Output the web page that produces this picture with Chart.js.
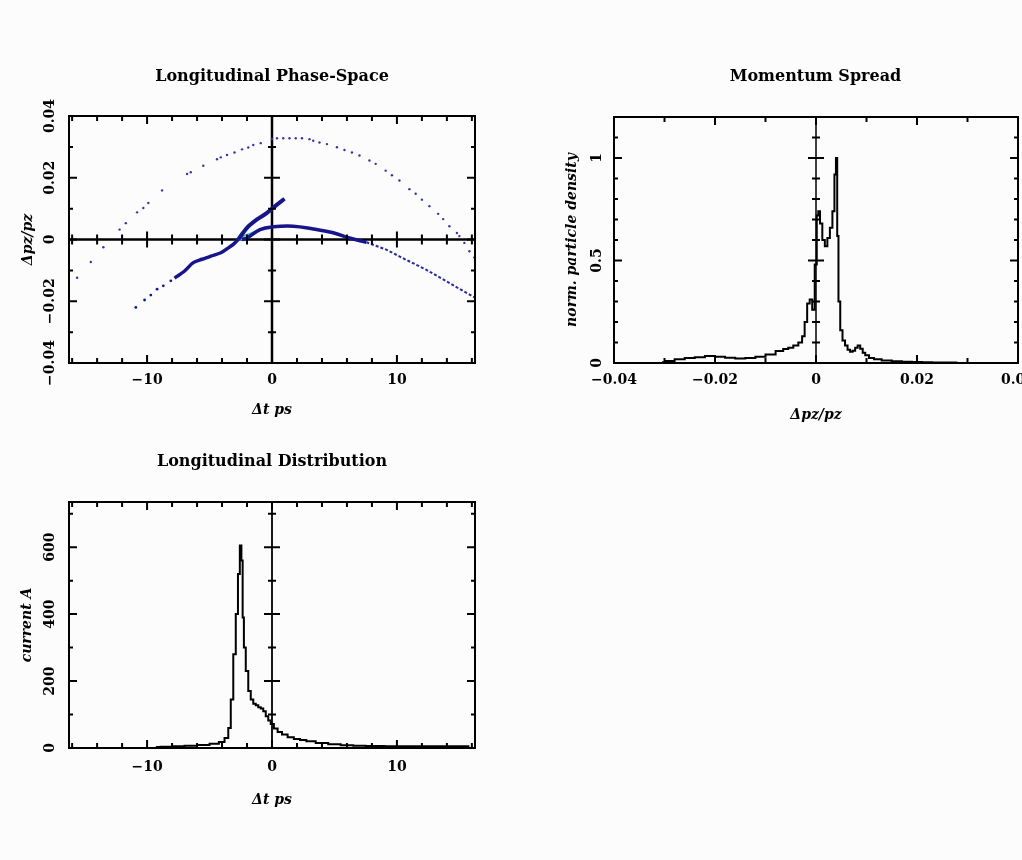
<!DOCTYPE html>
<html>
<head>
<meta charset="utf-8">
<script src="https://cdn.jsdelivr.net/npm/chart.js@4.4.0/dist/chart.umd.min.js"></script>
<style>
html, body { margin: 0; width: 1022px; height: 860px; overflow: hidden; background: #fcfcfc; }
.box { position: absolute; }
</style>
</head>
<body>
<div class="box" style="left:0;top:50px;width:544px;height:383px"><canvas id="phaseChart"></canvas></div>
<div class="box" style="left:545px;top:50px;width:541px;height:383px"><canvas id="spreadChart"></canvas></div>
<div class="box" style="left:0;top:435px;width:544px;height:383px"><canvas id="distChart"></canvas></div>
<script>
/* Longitudinal phase-space / momentum spread / current distribution */

// ── Phase space (Δt ps, Δpz/pz) ──────────────────────────────────────────
const arcT = [-15.6, -14.5, -13.5, -12.2, -11.7, -10.8, -10.3, -9.9, -8.8, -6.8, -6.5, -5.5, -4.4, -4.1, -3.6, -3.0, -2.4, -1.9, -1.5, -0.9, 0, 0.4, 0.9, 1.4, 1.9, 2.4, 3.0, 3.3, 3.8, 4.4, 5.2, 5.8, 6.4, 7.0, 7.8, 8.3, 9.1, 9.6, 10.2, 11.0, 11.5, 12.0, 12.6, 13.3, 13.7, 14.2, 14.8, 15.0, 15.4, 15.8, 16.2];
const arcD = [-0.0124, -0.0073, -0.0025, 0.0032, 0.0053, 0.0088, 0.0102, 0.0118, 0.0159, 0.0212, 0.0218, 0.0239, 0.026, 0.0266, 0.0274, 0.0282, 0.0292, 0.0298, 0.0306, 0.0312, 0.0325, 0.0328, 0.0328, 0.0328, 0.0328, 0.0328, 0.0325, 0.032, 0.0314, 0.0309, 0.0299, 0.029, 0.0282, 0.0272, 0.0256, 0.0245, 0.0223, 0.0208, 0.0191, 0.0163, 0.0148, 0.0129, 0.0108, 0.0083, 0.0066, 0.0043, 0.0021, 0.0011, -0.0011, -0.0038, -0.0058];

const tailT = [-10.9, -10.2, -9.7, -9.2, -8.7, -8.1, -7.5];
const tailD = [-0.022, -0.0196, -0.018, -0.0161, -0.015, -0.0134, -0.0118];

const lowArmT = [-7.8, -7.0, -6.3, -5.6, -4.9, -4.1, -3.6, -3.1, -2.7];
const lowArmD = [-0.0125, -0.0102, -0.0075, -0.0064, -0.0054, -0.0043, -0.003, -0.0016, 0.0];

const upArmT = [-2.7, -2.0, -1.2, -0.4, 0.4, 1.0];
const upArmD = [0.0, 0.0038, 0.0065, 0.0086, 0.0113, 0.0132];

const rightArmT = [-2.4, -2.0, -0.96, 0.1, 1.7, 3.3, 4.9, 6.2, 7.55];
const rightArmD = [0.0, 0.0005, 0.0032, 0.0041, 0.0043, 0.0034, 0.0022, 0.0005, -0.0009];

const rightTailT = [7.55, 9.1, 10.7, 12.3, 13.9, 15.0, 16.25];
const rightTailD = [-0.0009, -0.0032, -0.0065, -0.0097, -0.0134, -0.016, -0.0188];

const cyanT = [-2.5, -1.8, -1.0, -0.3];
const cyanD = [0.0008, 0.0018, 0.0032, 0.0038];

const coreT = [-2.55, -2.45, -2.35];
const coreD = [0.0004, 0.0012, 0.002];

// ── Momentum spread ───────────────────────────────────────────────────────
const spreadX = [-0.0305, -0.029, -0.027, -0.025, -0.023, -0.021, -0.019, -0.017, -0.015, -0.013, -0.011, -0.009, -0.007, -0.006, -0.005, -0.004, -0.003, -0.0025, -0.002, -0.0015, -0.001, -0.0005, 0, 0.0003, 0.0006, 0.001, 0.0015, 0.002, 0.0025, 0.003, 0.0035, 0.0038, 0.0041, 0.0043, 0.0046, 0.005, 0.0055, 0.006, 0.0065, 0.007, 0.0075, 0.008, 0.0085, 0.009, 0.0095, 0.010, 0.011, 0.012, 0.014, 0.016, 0.018, 0.020, 0.022, 0.024, 0.026, 0.028];
const spreadY = [0.004, 0.01, 0.018, 0.024, 0.028, 0.034, 0.03, 0.026, 0.022, 0.024, 0.03, 0.042, 0.058, 0.068, 0.075, 0.085, 0.1, 0.13, 0.2, 0.29, 0.31, 0.26, 0.48, 0.72, 0.74, 0.68, 0.6, 0.57, 0.61, 0.66, 0.74, 0.92, 1.0, 0.62, 0.3, 0.16, 0.11, 0.085, 0.065, 0.055, 0.06, 0.075, 0.085, 0.07, 0.05, 0.038, 0.025, 0.018, 0.012, 0.008, 0.006, 0.005, 0.004, 0.003, 0.003, 0.002];

// ── Longitudinal distribution (current A) ─────────────────────────────────
const distT = [-9.3, -8.5, -7.5, -6.5, -5.5, -4.5, -4.0, -3.6, -3.4, -3.2, -3.0, -2.8, -2.65, -2.5, -2.4, -2.3, -2.2, -2.0, -1.8, -1.6, -1.4, -1.2, -1.0, -0.8, -0.6, -0.4, -0.2, 0, 0.3, 0.6, 1.0, 1.5, 2.0, 2.5, 3.0, 4.0, 5.0, 6.0, 7.0, 8.0, 10, 12, 14, 15.8];
const distI = [3, 4, 5, 7, 9, 13, 18, 30, 60, 145, 280, 400, 520, 605, 560, 390, 300, 230, 170, 145, 132, 128, 122, 118, 110, 95, 82, 72, 58, 48, 40, 32, 27, 24, 20, 15, 11, 8, 7, 6, 5, 5, 5, 5];

const pts = (xs, ys) => xs.map((v, i) => ({ x: v, y: ys[i] }));
const fmt = v => (Math.abs(v) < 1e-9 ? '0' : String(+v.toFixed(3))).replace('-', '\u2212');

const SERIF = "'DejaVu Serif', serif";
const tickFont = { family: SERIF, weight: 'bold', size: 14 };
const titleFont = { family: SERIF, weight: 'bold', size: 16 };
const axisFont = { family: SERIF, weight: 'bold', style: 'italic', size: 14 };

// PGPLOT-like frame: inward ticks on all four sides, zero axes with crossing ticks
const pgFrame = {
    id: 'pgFrame',
    beforeDatasetsDraw(chart, args, o) {
        const { ctx, chartArea: a, scales: { x, y } } = chart;
        ctx.save();
        ctx.strokeStyle = '#000';
        ctx.lineWidth = o.zeroWidth || 2;
        ctx.beginPath();
        const px0 = x.getPixelForValue(0);
        ctx.moveTo(px0, a.top); ctx.lineTo(px0, a.bottom);
        if (o.zeroY) {
            const py0 = y.getPixelForValue(0);
            ctx.moveTo(a.left, py0); ctx.lineTo(a.right, py0);
        }
        ctx.stroke();
        ctx.restore();
    },
    afterDatasetsDraw(chart, args, o) {
        const { ctx, chartArea: a, scales: { x, y } } = chart;
        const isMajor = (v, step) => Math.abs(v / step - Math.round(v / step)) < 1e-6;
        const steps = (s, step) => {
            const out = [];
            for (let i = Math.ceil(s.min / step - 1e-9); i * step <= s.max + 1e-9; i++) out.push(i * step);
            return out;
        };
        ctx.save();
        ctx.strokeStyle = '#000';
        ctx.lineWidth = 2;
        ctx.strokeRect(a.left, a.top, a.right - a.left, a.bottom - a.top);
        ctx.beginPath();
        const px0 = x.getPixelForValue(0);
        const py0 = y.getPixelForValue(0);
        steps(x, o.xMinor).forEach(v => {
            const px = x.getPixelForValue(v);
            const len = isMajor(v, o.xMajor) ? 8 : 5;
            ctx.moveTo(px, a.bottom); ctx.lineTo(px, a.bottom - len);
            ctx.moveTo(px, a.top); ctx.lineTo(px, a.top + len);
            if (o.zeroY) { ctx.moveTo(px, py0 - len); ctx.lineTo(px, py0 + len); }
        });
        steps(y, o.yMinor).forEach(v => {
            const py = y.getPixelForValue(v);
            const len = isMajor(v, o.yMajor) ? 8 : 4;
            ctx.moveTo(a.left, py); ctx.lineTo(a.left + len, py);
            ctx.moveTo(a.right, py); ctx.lineTo(a.right - len, py);
            ctx.moveTo(px0 - len, py); ctx.lineTo(px0 + len, py);
        });
        ctx.stroke();
        ctx.restore();
    }
};

function xAxis(min, max, step, title, tickPad, titlePad) {
    return {
        type: 'linear', min, max,
        afterFit: s => { s.height = 70; },
        grid: { display: false, drawTicks: false },
        border: { display: false },
        ticks: { stepSize: step, includeBounds: false, maxRotation: 0, color: '#000', font: tickFont, padding: tickPad, callback: fmt },
        title: { display: true, text: title, color: '#000', font: axisFont, padding: { top: 0, bottom: titlePad } }
    };
}

function yAxis(min, max, step, title, width, tickPad, titlePad) {
    return {
        type: 'linear', min, max,
        afterFit: s => { s.width = width; },
        grid: { display: false, drawTicks: false },
        border: { display: false },
        ticks: { stepSize: step, includeBounds: false, minRotation: 90, maxRotation: 90, crossAlign: 'center', color: '#000', font: tickFont, padding: tickPad, callback: fmt },
        title: { display: true, text: title, color: '#000', font: axisFont, padding: { top: titlePad, bottom: 0 } }
    };
}

// empty right-hand box so the plot sits centred under its title
function spacer(width) {
    return {
        type: 'linear', position: 'right', display: true,
        afterFit: s => { s.width = width; },
        grid: { display: false, drawTicks: false },
        border: { display: false },
        ticks: { display: false }
    };
}

function baseOptions(title, titlePad) {
    return {
        responsive: true,
        maintainAspectRatio: false,
        animation: false,
        layout: { padding: 0 },
        plugins: {
            legend: { display: false },
            tooltip: { enabled: false },
            title: { display: true, text: title, color: '#000', font: titleFont, padding: titlePad }
        }
    };
}

// ── Phase-space chart ─────────────────────────────────────────────────────
const navy = '#16168a';
const phaseOpts = baseOptions('Longitudinal Phase-Space', { top: 17.4, bottom: 29.4 });
phaseOpts.scales = {
    x: xAxis(-16.25, 16.25, 10, '\u0394t ps', 9, 14.6),
    y: yAxis(-0.04, 0.04, 0.02, '\u0394pz/pz', 69, -4, 19.6),
    pad: spacer(69)
};
phaseOpts.plugins.pgFrame = { xMinor: 2, xMajor: 10, yMinor: 0.01, yMajor: 0.02, zeroY: true, zeroWidth: 2.5 };

new Chart(document.getElementById('phaseChart'), {
    type: 'scatter',
    data: {
        datasets: [
            { data: pts(arcT, arcD), pointRadius: 1.2, pointBackgroundColor: '#3535a8', pointBorderWidth: 0 },
            { data: pts(tailT, tailD), pointRadius: 1.4, pointBackgroundColor: navy, pointBorderWidth: 0 },
            { data: pts(rightTailT, rightTailD), showLine: true, borderColor: '#2a2a9c', borderWidth: 2, borderDash: [3, 2], pointRadius: 0 },
            { data: pts(lowArmT, lowArmD), showLine: true, borderColor: navy, borderWidth: 3.5, pointRadius: 0, tension: 0.3 },
            { data: pts(upArmT, upArmD), showLine: true, borderColor: navy, borderWidth: 4, pointRadius: 0, tension: 0.3 },
            { data: pts(rightArmT, rightArmD), showLine: true, borderColor: navy, borderWidth: 3.5, pointRadius: 0, tension: 0.4 },
            { data: pts(cyanT, cyanD), showLine: true, borderColor: '#2ec4e6', borderWidth: 2, pointRadius: 0, tension: 0.3 },
            { data: pts(coreT, coreD), pointRadius: 2.5, pointBackgroundColor: ['#3cc0e0', '#7ed957', '#e8e84a'], pointBorderWidth: 0 }
        ]
    },
    options: phaseOpts,
    plugins: [pgFrame]
});

// ── Momentum spread chart ─────────────────────────────────────────────────
const spreadOpts = baseOptions('Momentum Spread', { top: 17.4, bottom: 30.4 });
spreadOpts.scales = {
    x: xAxis(-0.04, 0.04, 0.02, '\u0394pz/pz', 9, 9.6),
    y: yAxis(0, 1.2, 0.5, 'norm. particle density', 69, 4, 18.6),
    pad: spacer(68)
};
spreadOpts.plugins.pgFrame = { xMinor: 0.01, xMajor: 0.02, yMinor: 0.1, yMajor: 0.5, zeroWidth: 1.5 };

new Chart(document.getElementById('spreadChart'), {
    type: 'scatter',
    data: {
        datasets: [{
            data: pts(spreadX, spreadY),
            showLine: true,
            stepped: 'middle',
            borderColor: '#000',
            borderWidth: 2,
            pointRadius: 0
        }]
    },
    options: spreadOpts,
    plugins: [pgFrame]
});

// ── Longitudinal distribution chart ───────────────────────────────────────
const distOpts = baseOptions('Longitudinal Distribution', { top: 17.4, bottom: 30.4 });
distOpts.scales = {
    x: xAxis(-16.25, 16.25, 10, '\u0394t ps', 11, 9.6),
    y: yAxis(0, 735, 200, 'current A', 69, 4, 18.6),
    pad: spacer(69)
};
distOpts.plugins.pgFrame = { xMinor: 2, xMajor: 10, yMinor: 100, yMajor: 200, zeroWidth: 1.8 };

new Chart(document.getElementById('distChart'), {
    type: 'scatter',
    data: {
        datasets: [{
            data: pts(distT, distI),
            showLine: true,
            stepped: 'middle',
            borderColor: '#000',
            borderWidth: 2,
            pointRadius: 0
        }]
    },
    options: distOpts,
    plugins: [pgFrame]
});
</script>
</body>
</html>
